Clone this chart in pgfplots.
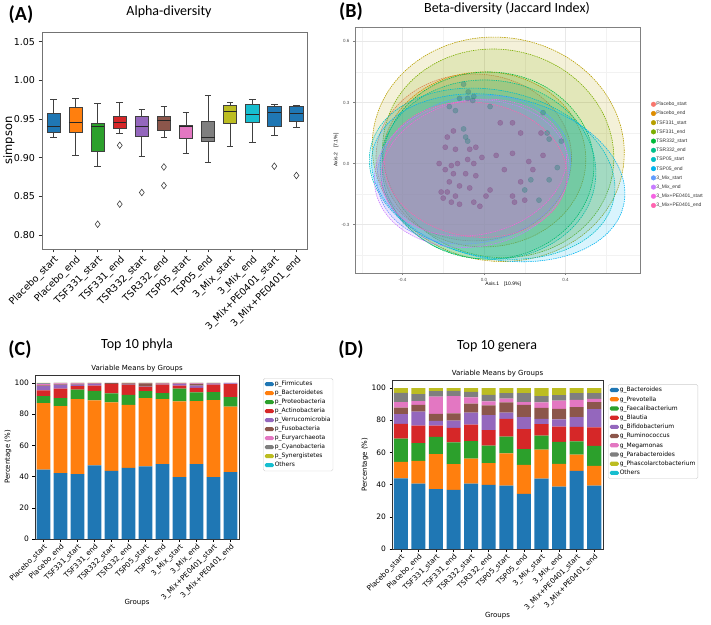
\documentclass[border=0pt]{standalone}
\usepackage{fontspec}
\setmainfont{DejaVu Sans}
\newfontfamily\carlito{Carlito}
\newfontfamily\libsans{Liberation Sans}
\usepackage{pgfplots}
\usepackage{pgfplotstable}
\pgfplotsset{compat=1.18}

% matplotlib tab10
\definecolor{tblue}{HTML}{1F77B4}
\definecolor{torange}{HTML}{FF7F0E}
\definecolor{tgreen}{HTML}{2CA02C}
\definecolor{tred}{HTML}{D62728}
\definecolor{tpurple}{HTML}{9467BD}
\definecolor{tbrown}{HTML}{8C564B}
\definecolor{tpink}{HTML}{E377C2}
\definecolor{tgray}{HTML}{7F7F7F}
\definecolor{tolive}{HTML}{BCBD22}
\definecolor{tcyan}{HTML}{17BECF}
% ggplot hues
\definecolor{g1}{HTML}{F8766D}
\definecolor{g2}{HTML}{DE8C00}
\definecolor{g3}{HTML}{B79F00}
\definecolor{g4}{HTML}{7CAE00}
\definecolor{g5}{HTML}{00BA38}
\definecolor{g6}{HTML}{00C08B}
\definecolor{g7}{HTML}{00BFC4}
\definecolor{g8}{HTML}{00B4F0}
\definecolor{g9}{HTML}{619CFF}
\definecolor{g10}{HTML}{C77CFF}
\definecolor{g11}{HTML}{F564E3}
\definecolor{g12}{HTML}{FF64B0}

\pgfplotstableread{
x c1 c2 c3 c4 c5 c6 c7 c8 c9 c10
0 44.4 42.6 4.4 3.8 2.6 0.6 1.0 0.3 0.2 0.1
1 42.1 43.0 5.1 6.0 2.5 0.3 0.7 0.2 0.1 0.0
2 41.5 48.1 6.1 2.1 1.1 0.4 0.4 0.2 0.1 0.0
3 47.2 41.5 6.2 3.3 1.1 0.2 0.3 0.1 0.1 0.0
4 43.6 43.8 5.8 5.9 0.1 0.6 0.1 0.1 0.0 0.0
5 45.5 40.4 6.4 6.4 0.1 0.8 0.2 0.1 0.1 0.0
6 46.5 43.7 4.4 2.8 0.1 2.1 0.2 0.1 0.1 0.0
7 47.9 41.7 3.8 5.5 0.1 0.5 0.3 0.1 0.1 0.0
8 39.6 48.5 8.1 2.0 1.0 0.2 0.4 0.1 0.1 0.0
9 47.9 40.4 5.5 3.0 1.4 1.1 0.4 0.2 0.1 0.0
10 39.6 49.3 5.1 4.9 0.6 0.1 0.2 0.1 0.1 0.0
11 42.8 41.9 6.2 8.2 0.5 0.1 0.2 0.1 0.0 0.0
}\phyla

\pgfplotstableread{
x c1 c2 c3 c4 c5 c6 c7 c8 c9 c10
0 43.9 10.3 14.3 9.3 6.0 4.1 3.4 5.7 3.0 0.0
1 40.6 14.2 11.0 10.8 8.7 4.2 2.3 4.4 3.8 0.0
2 37.2 21.8 10.7 6.9 3.0 4.4 10.6 3.5 1.9 0.0
3 36.8 16.0 13.4 9.1 4.5 4.4 10.8 3.3 1.7 0.0
4 40.6 15.5 11.0 10.1 7.5 5.6 3.9 3.5 2.3 0.0
5 39.8 13.6 10.8 9.7 9.3 6.0 2.5 4.1 4.2 0.0
6 39.3 20.1 10.4 11.1 3.9 6.3 2.3 3.5 3.1 0.0
7 34.3 18.0 9.8 12.4 7.5 7.6 1.7 5.6 3.1 0.0
8 43.7 18.0 8.7 7.2 3.3 6.8 3.4 3.9 5.0 0.0
9 38.7 14.2 13.6 9.5 4.5 6.5 5.2 3.4 4.4 0.0
10 48.5 10.1 8.3 8.9 6.2 6.2 4.4 4.3 3.1 0.0
11 39.3 12.4 12.4 11.4 11.4 4.3 2.0 3.6 3.2 0.0
}\genera

\pgfplotstableread{
x y
-0.10 0.39
-0.077 0.352
-0.05 0.33
-0.08 0.32
-0.055 0.31
0.29 0.25
0.03 0.28
-0.17 0.28
-0.14 0.26
-0.12 0.32
0.38 0.11
0.32 0.12
0.31 0.15
0.36 -0.02
0.32 -0.08
0.27 -0.18
0.23 -0.08
0.20 -0.13
-0.10 0.17
-0.09 0.13
-0.08 0.11
}\betaA

\pgfplotstableread{
x y
-0.15 0.16
-0.18 0.13
-0.19 0.08
-0.14 0.07
-0.07 0.07
-0.04 0.08
0.08 0.20
0.14 0.20
0.18 0.15
0.28 0.15
0.29 0.04
0.14 0.05
0.22 0.01
0.24 -0.03
0.18 -0.09
0.10 -0.03
0.06 0.04
-0.01 0.03
-0.05 0.0
-0.08 0.02
-0.13 0.0
-0.16 -0.01
-0.22 0.0
-0.19 -0.03
-0.15 -0.05
-0.09 -0.05
-0.04 -0.06
-0.17 -0.09
-0.12 -0.11
-0.07 -0.12
-0.18 -0.14
-0.14 -0.16
-0.20 -0.17
-0.16 -0.19
-0.12 -0.20
-0.05 -0.19
-0.02 -0.21
0.01 -0.16
0.03 -0.13
0.14 -0.16
0.20 -0.18
0.15 -0.19
-0.21 -0.14
}\betaB

\newcommand{\fs}[1]{\fontsize{#1}{#1}\selectfont}

% one box: position, low whisker, Q1, median, Q3, high whisker, colour
\newcommand{\bxp}[7]{%
  \pgfmathsetmacro\bxl{#1-0.3}\pgfmathsetmacro\bxr{#1+0.3}%
  \pgfmathsetmacro\bcl{#1-0.15}\pgfmathsetmacro\bcr{#1+0.15}%
  \addplot[black!75, line width=0.8pt] coordinates {(#1,#2)(#1,#3)};
  \addplot[black!75, line width=0.8pt] coordinates {(#1,#5)(#1,#6)};
  \addplot[black!75, line width=0.8pt] coordinates {(\bcl,#2)(\bcr,#2)};
  \addplot[black!75, line width=0.8pt] coordinates {(\bcl,#6)(\bcr,#6)};
  \addplot[draw=black!75, fill=#7, line width=0.7pt] coordinates {(\bxl,#3)(\bxr,#3)(\bxr,#5)(\bxl,#5)} -- cycle;
  \addplot[black!85, line width=1pt] coordinates {(\bxl,#4)(\bxr,#4)};
}

\begin{document}
\begin{tikzpicture}

% ---------- (A) alpha diversity ----------
\begin{axis}[
  at={(42pt,375pt)}, anchor=south west, scale only axis,
  width=265pt, height=217pt,
  xmin=0.48, xmax=12.48, ymin=0.782, ymax=1.0625,
  xtick={1,...,12},
  xticklabels={Placebo\_start,Placebo\_end,TSF331\_start,TSF331\_end,TSR332\_start,TSR332\_end,TSP05\_start,TSP05\_end,3\_Mix\_start,3\_Mix\_end,3\_Mix+PE0401\_start,3\_Mix+PE0401\_end},
  ytick={0.80,0.85,0.90,0.95,1.00,1.05},
  yticklabels={0.80,0.85,0.90,0.95,1.00,1.05},
  tick align=outside, xtick pos=bottom, ytick pos=left,
  major tick length=3.5pt, tick style={black!80, line width=0.6pt},
  x tick label style={rotate=45, anchor=north east, font=\fs{9.6}, inner sep=1.5pt},
  y tick label style={font=\fs{9.5}},
  ylabel={simpson},
  ylabel style={font=\fs{11.5}, at={(axis description cs:-0.125,0.5)}, anchor=center},
  axis line style={black!55, line width=0.8pt},
  every axis plot/.append style={mark=none},
]
\bxp{1}{0.926}{0.933}{0.940}{0.957}{0.976}{tblue}
\bxp{2}{0.903}{0.933}{0.945}{0.965}{0.977}{torange}
\bxp{3}{0.889}{0.908}{0.940}{0.944}{0.970}{tgreen}
\bxp{4}{0.931}{0.938}{0.946}{0.953}{0.972}{tred}
\bxp{5}{0.902}{0.928}{0.940}{0.953}{0.963}{tpurple}
\bxp{6}{0.926}{0.936}{0.948}{0.953}{0.966}{tbrown}
\bxp{7}{0.906}{0.925}{0.940}{0.942}{0.959}{tpink}
\bxp{8}{0.894}{0.921}{0.926}{0.947}{0.980}{tgray}
\bxp{9}{0.914}{0.945}{0.960}{0.968}{0.972}{tolive}
\bxp{10}{0.920}{0.946}{0.956}{0.969}{0.975}{tcyan}
\bxp{11}{0.929}{0.940}{0.959}{0.966}{0.969}{tblue}
\bxp{12}{0.939}{0.947}{0.957}{0.966}{0.968}{tblue}
\addplot[only marks, mark=diamond*, mark size=3.3pt, mark options={fill=white, draw=black!75, line width=0.6pt}]
  coordinates {(3,0.814)(4,0.916)(4,0.840)(5,0.855)(6,0.888)(6,0.864)(11,0.889)(12,0.877)};
\end{axis}

% ---------- (B) beta diversity ----------
\begin{axis}[
  at={(355pt,351pt)}, anchor=south west, scale only axis,
  width=285pt, height=246pt,
  xmin=-0.633, xmax=0.766, ymin=-0.538, ymax=0.671,
  xtick={-0.4,0,0.4}, xticklabels={-0.4,0.0,0.4},
  ytick={-0.3,0,0.3,0.6}, yticklabels={-0.3,0.0,0.3,0.6},
  minor xtick={-0.6,-0.2,0.2,0.6}, minor ytick={-0.45,-0.15,0.15,0.45},
  grid=both, major grid style={black!9, line width=0.5pt}, minor grid style={black!5, line width=0.3pt},
  tick align=outside, xtick pos=bottom, ytick pos=left,
  major tick length=2pt, minor tick length=0pt, tick style={black!50},
  tick label style={font=\libsans\fs{4.5}, text=black!70},
  axis line style={black!50, line width=0.8pt},
  xlabel={Axis.1\quad[10.9\%]}, ylabel={Axis.2\quad[7.1\%]},
  xlabel style={font=\libsans\fs{5}, at={(axis description cs:0.52,-0.045)}, anchor=center},
  ylabel style={font=\libsans\fs{5}, at={(axis description cs:-0.066,0.5)}, anchor=center},
  legend cell align=left,
  legend style={draw=none, fill=none, at={(1.028,0.707)}, anchor=north west,
    font=\libsans\fs{5}, text=black!80, row sep=3.2pt,
    nodes={inner sep=0.5pt, text height=4pt, text depth=1pt}},
]
\addplot[forget plot, only marks, mark=*, mark size=2.6pt, color=teal!60!gray, opacity=0.4] table[x=x,y=y] {\betaA};
\addplot[forget plot, only marks, mark=*, mark size=2.6pt, color=violet!50!gray, opacity=0.4] table[x=x,y=y] {\betaB};
\newcommand{\ellp}[6]{\draw[draw=#6, fill=#6, fill opacity=0.15, dash pattern=on 1.4pt off 0.9pt, line width=0.6pt,
  rotate around={#5:(axis cs:#1,#2)}] (axis cs:#1,#2) ellipse [x radius=#3, y radius=#4];}
\ellp{-0.05}{0.03}{0.48}{0.41}{0}{g1}
\ellp{0.0}{0.02}{0.50}{0.43}{0}{g2}
\ellp{0.07}{0.07}{0.62}{0.55}{-8}{g3}
\ellp{0.07}{0.05}{0.57}{0.51}{-12}{g4}
\ellp{0.02}{-0.01}{0.52}{0.46}{0}{g5}
\ellp{0.02}{-0.03}{0.53}{0.44}{-5}{g6}
\ellp{0.04}{-0.05}{0.61}{0.41}{-12}{g7}
\ellp{0.07}{-0.07}{0.63}{0.40}{-12}{g8}
\ellp{-0.05}{-0.03}{0.48}{0.36}{12}{g9}
\ellp{-0.06}{-0.05}{0.48}{0.36}{8}{g10}
\ellp{-0.05}{-0.02}{0.46}{0.33}{12}{g11}
\ellp{-0.04}{-0.03}{0.45}{0.33}{-8}{g12}
\addlegendimage{only marks, mark=*, mark size=2.3pt, color=g1}\addlegendentry{Placebo\_start}
\addlegendimage{only marks, mark=*, mark size=2.3pt, color=g2}\addlegendentry{Placebo\_end}
\addlegendimage{only marks, mark=*, mark size=2.3pt, color=g3}\addlegendentry{TSF331\_start}
\addlegendimage{only marks, mark=*, mark size=2.3pt, color=g4}\addlegendentry{TSF331\_end}
\addlegendimage{only marks, mark=*, mark size=2.3pt, color=g5}\addlegendentry{TSR332\_start}
\addlegendimage{only marks, mark=*, mark size=2.3pt, color=g6}\addlegendentry{TSR332\_end}
\addlegendimage{only marks, mark=*, mark size=2.3pt, color=g7}\addlegendentry{TSP05\_start}
\addlegendimage{only marks, mark=*, mark size=2.3pt, color=g8}\addlegendentry{TSP05\_end}
\addlegendimage{only marks, mark=*, mark size=2.3pt, color=g9}\addlegendentry{3\_Mix\_start}
\addlegendimage{only marks, mark=*, mark size=2.3pt, color=g10}\addlegendentry{3\_Mix\_end}
\addlegendimage{only marks, mark=*, mark size=2.3pt, color=g11}\addlegendentry{3\_Mix+PE0401\_start}
\addlegendimage{only marks, mark=*, mark size=2.3pt, color=g12}\addlegendentry{3\_Mix+PE0401\_end}
\node[anchor=west, font=\libsans\fs{5.5}, text=black!85] at (rel axis cs:1.028,0.732) {group};
\end{axis}

% ---------- (C) top 10 phyla ----------
\begin{axis}[
  at={(35pt,85pt)}, anchor=south west, scale only axis,
  width=204pt, height=164pt,
  ybar stacked, bar width=0.82,
  xmin=-0.5, xmax=11.5, ymin=0, ymax=105,
  xtick={0,...,11},
  xticklabels={Placebo\_start,Placebo\_end,TSF331\_start,TSF331\_end,TSR332\_start,TSR332\_end,TSP05\_start,TSP05\_end,3\_Mix\_start,3\_Mix\_end,3\_Mix+PE0401\_start,3\_Mix+PE0401\_end},
  ytick={0,20,...,100},
  /pgf/number format/assume math mode=true,
  tick align=outside, xtick pos=bottom, ytick pos=left,
  major tick length=2.5pt, tick style={black, line width=0.5pt},
  x tick label style={rotate=45, anchor=north east, font=\fs{7.3}, inner sep=1pt},
  y tick label style={font=\fs{7.5}},
  axis line style={black!80, line width=0.6pt},
  title={Variable Means by Groups}, title style={font=\fs{7}, yshift=-6pt},
  xlabel={Groups}, ylabel={Percentage (\%)},
  xlabel style={font=\fs{7}, at={(axis description cs:0.5,-0.39)}, anchor=center},
  ylabel style={font=\fs{7}, at={(axis description cs:-0.132,0.5)}, anchor=center},
  legend cell align=left,
  legend image code/.code={\fill[#1] (0pt,-2pt) rectangle (9pt,2.2pt);},
  legend style={at={(1.118,0.98)}, anchor=north west, draw=black!20, rounded corners=1.5pt,
    font=\fs{6}, row sep=0.5pt, inner sep=1.5pt,
    nodes={inner sep=1pt, text height=5pt, text depth=1.5pt}},
  every axis plot/.append style={draw=none},
]
\addplot[fill=tblue] table[x=x,y=c1] {\phyla};
\addplot[fill=torange] table[x=x,y=c2] {\phyla};
\addplot[fill=tgreen] table[x=x,y=c3] {\phyla};
\addplot[fill=tred] table[x=x,y=c4] {\phyla};
\addplot[fill=tpurple] table[x=x,y=c5] {\phyla};
\addplot[fill=tbrown] table[x=x,y=c6] {\phyla};
\addplot[fill=tpink] table[x=x,y=c7] {\phyla};
\addplot[fill=tgray] table[x=x,y=c8] {\phyla};
\addplot[fill=tolive] table[x=x,y=c9] {\phyla};
\addplot[fill=tcyan] table[x=x,y=c10] {\phyla};
\legend{p\_Firmicutes,p\_Bacteroidetes,p\_Proteobacteria,p\_Actinobacteria,p\_Verrucomicrobia,p\_Fusobacteria,p\_Euryarchaeota,p\_Cyanobacteria,p\_Synergistetes,Others}
\end{axis}

% ---------- (D) top 10 genera ----------
\begin{axis}[
  at={(392pt,75pt)}, anchor=south west, scale only axis,
  width=211pt, height=169pt,
  ybar stacked, bar width=0.8,
  xmin=-0.5, xmax=11.5, ymin=0, ymax=105,
  xtick={0,...,11},
  xticklabels={Placebo\_start,Placebo\_end,TSF331\_start,TSF331\_end,TSR332\_start,TSR332\_end,TSP05\_start,TSP05\_end,3\_Mix\_start,3\_Mix\_end,3\_Mix+PE0401\_start,3\_Mix+PE0401\_end},
  ytick={0,20,...,100},
  /pgf/number format/assume math mode=true,
  tick align=outside, xtick pos=bottom, ytick pos=left,
  major tick length=2.5pt, tick style={black, line width=0.5pt},
  x tick label style={rotate=45, anchor=north east, font=\fs{7.3}, inner sep=1pt},
  y tick label style={font=\fs{7.5}},
  axis line style={black!80, line width=0.6pt},
  title={Variable Means by Groups}, title style={font=\fs{7}, yshift=-6pt},
  xlabel={Groups}, ylabel={Percentage (\%)},
  xlabel style={font=\fs{7}, at={(axis description cs:0.5,-0.394)}, anchor=center},
  ylabel style={font=\fs{7}, at={(axis description cs:-0.128,0.5)}, anchor=center},
  legend cell align=left,
  legend image code/.code={\fill[#1] (0pt,-2pt) rectangle (9pt,2.2pt);},
  legend style={at={(1.024,0.975)}, anchor=north west, draw=black!20, rounded corners=1.5pt,
    font=\fs{6}, row sep=0.7pt, inner sep=1.5pt,
    nodes={inner sep=1pt, text height=5pt, text depth=1.5pt}},
  every axis plot/.append style={draw=none},
]
\addplot[fill=tblue] table[x=x,y=c1] {\genera};
\addplot[fill=torange] table[x=x,y=c2] {\genera};
\addplot[fill=tgreen] table[x=x,y=c3] {\genera};
\addplot[fill=tred] table[x=x,y=c4] {\genera};
\addplot[fill=tpurple] table[x=x,y=c5] {\genera};
\addplot[fill=tbrown] table[x=x,y=c6] {\genera};
\addplot[fill=tpink] table[x=x,y=c7] {\genera};
\addplot[fill=tgray] table[x=x,y=c8] {\genera};
\addplot[fill=tolive] table[x=x,y=c9] {\genera};
\addplot[fill=tcyan] table[x=x,y=c10] {\genera};
\legend{g\_Bacteroides,g\_Prevotella,g\_Faecalibacterium,g\_Blautia,g\_Bifidobacterium,g\_Ruminococcus,g\_Megamonas,g\_Parabacteroides,g\_Phascolarctobacterium,Others}
\end{axis}

% ---------- panel titles ----------
\node[font=\carlito\bfseries\fs{20}] at (21pt,609pt) {(A)};
\node[font=\carlito\fs{14}] at (169pt,612pt) {Alpha-diversity};
\node[font=\carlito\bfseries\fs{20}] at (351pt,612pt) {(B)};
\node[font=\carlito\fs{14}] at (507pt,615pt) {Beta-diversity (Jaccard Index)};
\node[font=\carlito\bfseries\fs{20}] at (20pt,274pt) {(C)};
\node[font=\carlito\fs{14}] at (137pt,279pt) {Top 10 phyla};
\node[font=\carlito\bfseries\fs{20}] at (351pt,274pt) {(D)};
\node[font=\carlito\fs{14}] at (497pt,277.5pt) {Top 10 genera};

\pgfresetboundingbox
\useasboundingbox (0pt,0pt) rectangle (711pt,624pt);
\end{tikzpicture}
\end{document}
